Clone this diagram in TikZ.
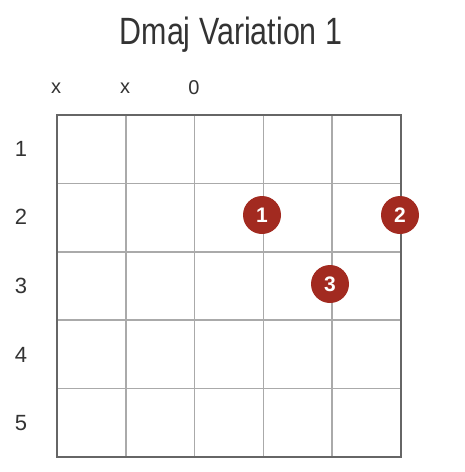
\documentclass[tikz,border=0pt]{standalone}
\usepackage{fontspec}
\setmainfont{Liberation Sans}
\usetikzlibrary{calc}
\definecolor{dotred}{HTML}{A22A20}
\definecolor{inner}{HTML}{AAAAAA}
\definecolor{outer}{HTML}{666666}
\definecolor{txt}{HTML}{333333}
\tikzset{
  gridline/.style={draw=inner, line width=1.6pt},
  frame/.style={draw=outer, line width=1.6pt},
  dotnode/.style={circle, fill=dotred, minimum size=38pt, inner sep=0pt, text=white, font=\fontsize{21}{21}\selectfont\bfseries},
  toplabel/.style={text=txt, font=\fontsize{20}{20}\selectfont, inner sep=0pt},
  fretlabel/.style={text=txt, font=\fontsize{22}{22}\selectfont, inner sep=0pt},
  titlenode/.style={text=txt, inner sep=0pt}
}
\begin{document}
\begin{tikzpicture}[x=1pt,y=-1pt]
\useasboundingbox (0,0) rectangle (464,472);
\fill[white] (0,0) rectangle (464,472);
% inner grid lines
\foreach \i in {1,2,3,4} {
  \draw[gridline] ({57+68.8*\i},115) -- ({57+68.8*\i},457);
  \draw[gridline] (57,{115+68.4*\i}) -- (401,{115+68.4*\i});
}
\draw[frame] (57,115) rectangle (401,457);
% title
\node[titlenode] (title) at (231,35) {\scalebox{0.8}[1]{\fontsize{38}{38}\selectfont Dmaj Variation 1}};
% string labels
\node[toplabel] (s1) at (56,88) {x};
\node[toplabel] (s2) at (125,88) {x};
\node[toplabel] (s3) at (194,88) {0};
% fret labels
\node[fretlabel] (f1) at (21,149) {1};
\node[fretlabel] (f2) at (21,217) {2};
\node[fretlabel] (f3) at (21,286) {3};
\node[fretlabel] (f4) at (21,355) {4};
\node[fretlabel] (f5) at (21,423) {5};
% finger dots
\node[dotnode] (d1) at (262,215) {1};
\node[dotnode] (d2) at (400,215) {2};
\node[dotnode] (d3) at (330,284) {3};
\end{tikzpicture}
\end{document}
